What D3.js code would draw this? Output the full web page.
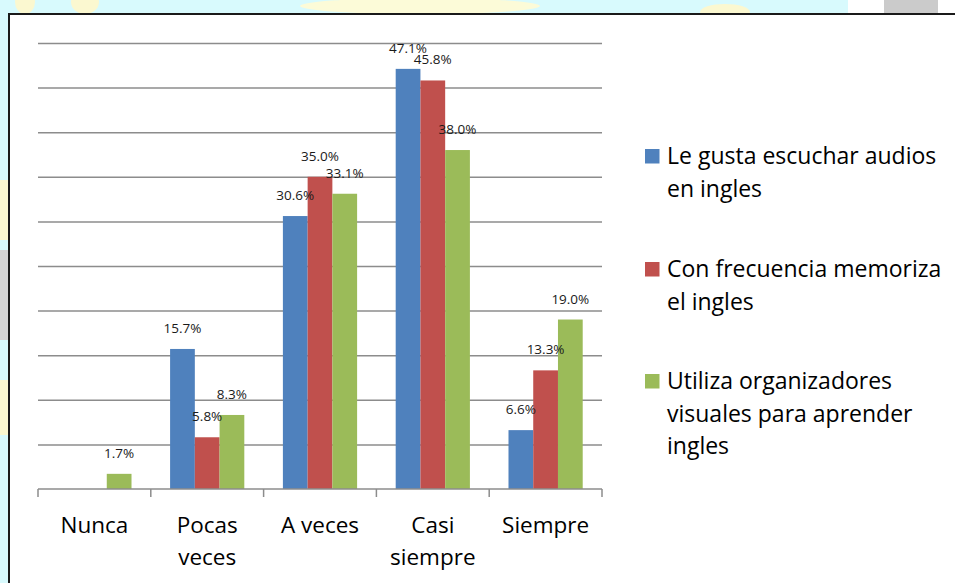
<!DOCTYPE html>
<html>
<head>
<meta charset="utf-8">
<script src="https://cdn.jsdelivr.net/npm/d3@7"></script>
<style>
  html, body { margin: 0; padding: 0; background: #d8fafd; }
  svg { display: block; font-family: "Open Sans", Lato, sans-serif; }
</style>
</head>
<body>
<svg id="chart" width="955" height="583"></svg>
<script>
// Categories (line breaks as in the original axis)
const categories = ["Nunca", "Pocas\nveces", "A veces", "Casi\nsiempre", "Siempre"];

// Series names (legend wraps)
const seriesNames = [
  "Le gusta escuchar audios\nen ingles",
  "Con frecuencia memoriza\nel ingles",
  "Utiliza organizadores\nvisuales para aprender\ningles",
];

// Values in percent
const audios = [0, 15.7, 30.6, 47.1, 6.6];
const memoriza = [0, 5.8, 35.0, 45.8, 13.3];
const organizadores = [1.7, 8.3, 33.1, 38.0, 19.0];

const yTicks = [0, 5, 10, 15, 20, 25, 30, 35, 40, 45, 50];
const colors = ["#4f81bd", "#c0504d", "#9bbb59"];

const series = [audios, memoriza, organizadores];

const svg = d3.select("#chart");

// Background watermark shapes outside the chart box
const bg = svg.append("g").attr("class", "background");
bg.append("rect").attr("width", 955).attr("height", 583).attr("fill", "#d8fafd");
bg.append("ellipse").attr("cx", 25).attr("cy", 2).attr("rx", 10).attr("ry", 12).attr("fill", "#fbf8d0");
bg.append("ellipse").attr("cx", 85).attr("cy", 2).attr("rx", 14).attr("ry", 12).attr("fill", "#fbf8d0");
bg.append("ellipse").attr("cx", 420).attr("cy", 6).attr("rx", 120).attr("ry", 8).attr("fill", "#fcfbd8");
bg.append("ellipse").attr("cx", 725).attr("cy", 12).attr("rx", 25).attr("ry", 8).attr("fill", "#fbf8d0");
bg.append("rect").attr("x", 848).attr("y", 0).attr("width", 107).attr("height", 14).attr("fill", "#ffffff");
bg.append("rect").attr("x", 884).attr("y", 0).attr("width", 54).attr("height", 14).attr("fill", "#cbcbcb");
bg.append("rect").attr("x", 0).attr("y", 180).attr("width", 8).attr("height", 60).attr("fill", "#fbf8d0");
bg.append("rect").attr("x", 0).attr("y", 250).attr("width", 8).attr("height", 90).attr("fill", "#d3d3d3");
bg.append("rect").attr("x", 0).attr("y", 380).attr("width", 8).attr("height", 55).attr("fill", "#fbf8d0");

// Chart box
svg.append("rect")
  .attr("x", 9).attr("y", 14)
  .attr("width", 960).attr("height", 600)
  .attr("fill", "#ffffff");
svg.append("path")
  .attr("d", "M9,600V14H960")
  .attr("fill", "none")
  .attr("stroke", "#1a1a1a")
  .attr("stroke-width", 2);

const plot = { left: 38, right: 602, top: 43, bottom: 489 };

const x0 = d3.scaleBand()
  .domain(categories)
  .range([plot.left, plot.right])
  .padding(0);

const x1 = d3.scaleBand()
  .domain(d3.range(series.length))
  .range([0, x0.bandwidth()])
  .paddingInner(0)
  .paddingOuter(0.78);

const y = d3.scaleLinear().domain([0, 50]).range([plot.bottom, plot.top]);

// Gridlines
svg.append("g")
  .attr("class", "grid")
  .attr("transform", `translate(${plot.left},0)`)
  .call(d3.axisLeft(y).tickValues(yTicks.slice(1)).tickSize(-(plot.right - plot.left)).tickFormat(""))
  .call((g) => g.select(".domain").remove())
  .call((g) => g.selectAll(".tick line").attr("stroke", "#8c8c8c").attr("stroke-width", 1.5));

// Bars
const groups = svg.append("g")
  .selectAll("g")
  .data(categories)
  .join("g")
  .attr("transform", (d) => `translate(${x0(d)},0)`);

groups.selectAll("rect")
  .data((d, i) => series.map((s, k) => ({ k, v: s[i] })))
  .join("rect")
  .attr("x", (d) => x1(d.k))
  .attr("width", x1.bandwidth())
  .attr("y", (d) => y(d.v))
  .attr("height", (d) => y(0) - y(d.v))
  .attr("fill", (d) => colors[d.k]);

// Data labels
groups.selectAll("text")
  .data((d, i) => series.map((s, k) => ({ k, v: s[i] })).filter((d) => d.v > 0))
  .join("text")
  .attr("x", (d) => x1(d.k) + x1.bandwidth() / 2)
  .attr("y", (d) => y(d.v) - 16)
  .attr("text-anchor", "middle")
  .attr("font-size", 13.5)
  .attr("fill", "#1a1a1a")
  .text((d) => d.v.toFixed(1) + "%");

// X axis with ticks at category boundaries
const gx = svg.append("g").attr("class", "x axis");
gx.append("line")
  .attr("x1", plot.left).attr("x2", plot.right)
  .attr("y1", plot.bottom).attr("y2", plot.bottom)
  .attr("stroke", "#8c8c8c").attr("stroke-width", 1.5);
gx.selectAll("line.tick")
  .data([...categories.map((c) => x0(c)), plot.right])
  .join("line")
  .attr("class", "tick")
  .attr("x1", (d) => d).attr("x2", (d) => d)
  .attr("y1", plot.bottom).attr("y2", plot.bottom + 8)
  .attr("stroke", "#8c8c8c").attr("stroke-width", 1.5);

gx.selectAll("text")
  .data(categories)
  .join("text")
  .attr("x", (d) => x0(d) + x0.bandwidth() / 2)
  .attr("y", 533)
  .attr("text-anchor", "middle")
  .attr("font-size", 22.5)
  .attr("fill", "#000")
  .selectAll("tspan")
  .data((d) => d.split("\n"))
  .join("tspan")
  .attr("x", function () { return d3.select(this.parentNode).attr("x"); })
  .attr("dy", (d, i) => (i === 0 ? 0 : 31.5))
  .text((d) => d);

// Legend
const legendTop = [164, 277, 389];
const legend = svg.append("g").attr("class", "legend");
const items = legend.selectAll("g")
  .data(seriesNames)
  .join("g")
  .attr("transform", (d, i) => `translate(645,${legendTop[i]})`);

items.append("rect")
  .attr("y", -15)
  .attr("width", 14.5)
  .attr("height", 14.5)
  .attr("fill", (d, i) => colors[i]);

items.append("text")
  .attr("x", 22)
  .attr("font-size", 23)
  .attr("fill", "#000")
  .selectAll("tspan")
  .data((d) => d.split("\n"))
  .join("tspan")
  .attr("x", 22)
  .attr("dy", (d, i) => (i === 0 ? 0 : 32.5))
  .text((d) => d);
</script>
</body>
</html>
